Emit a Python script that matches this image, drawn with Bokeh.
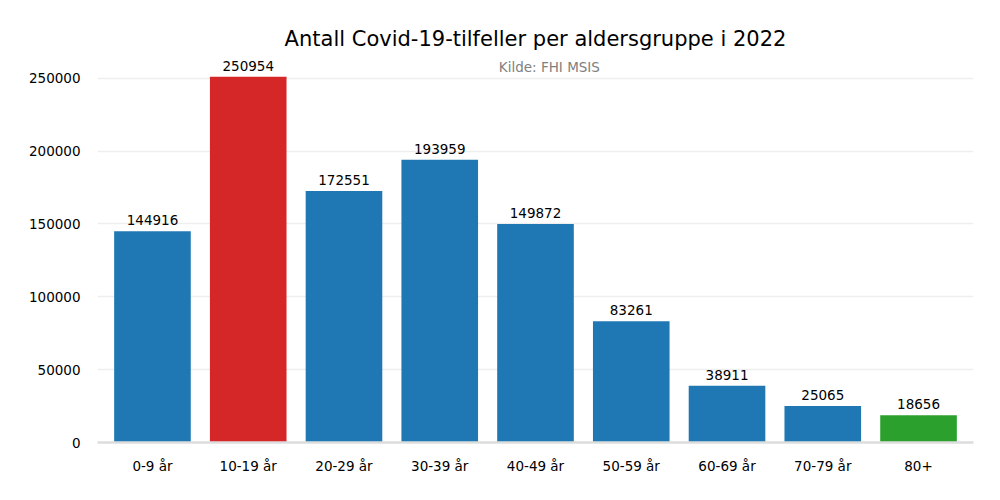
from bokeh.plotting import figure
from bokeh.models import ColumnDataSource, FactorRange, Label, NumeralTickFormatter, FixedTicker
from bokeh.embed import file_html
from bokeh.resources import INLINE

categories = ["0-9 år", "10-19 år", "20-29 år", "30-39 år", "40-49 år", "50-59 år", "60-69 år", "70-79 år", "80+"]
cases = [144916, 250954, 172551, 193959, 149872, 83261, 38911, 25065, 18656]
colors = ["#1f77b4", "#d62728", "#1f77b4", "#1f77b4", "#1f77b4", "#1f77b4", "#1f77b4", "#1f77b4", "#2ca02c"]
y_ticks = [0, 50000, 100000, 150000, 200000, 250000]

FONT = "DejaVu Sans"
FS = "13.5px"

source = ColumnDataSource(dict(cat=categories, val=cases, color=colors,
                               lbl=[str(v) for v in cases]))

p = figure(width=984, height=484, output_backend="svg", toolbar_location=None,
           x_range=FactorRange(factors=categories, range_padding=0.074, range_padding_units="absolute"),
           y_range=(0, max(cases) * 1.05),
           min_border_left=97, min_border_right=11, min_border_top=58, min_border_bottom=42)

p.vbar(x="cat", top="val", width=0.8, color="color", source=source, line_color=None)
p.text(x="cat", y="val", text="lbl", source=source, text_align="center", text_baseline="bottom",
       y_offset=-6, text_font_size=FS, text_font={"value": FONT}, text_color="black")

p.title.text = "Antall Covid-19-tilfeller per aldersgruppe i 2022"
p.title.align = "center"
p.title.text_font = FONT
p.title.text_font_size = "21px"
p.title.text_font_style = "normal"
p.title.text_color = "black"
p.title.standoff = 16

sub = Label(x=4.645, y=257555, text="Kilde: FHI MSIS", text_align="center", text_baseline="middle",
            text_font=FONT, text_font_size=FS, text_color="#808080")
p.add_layout(sub)

p.outline_line_color = None
p.xgrid.grid_line_color = None
p.ygrid.grid_line_color = "#eeeeee"
p.ygrid.grid_line_width = 1.5

p.yaxis.ticker = FixedTicker(ticks=y_ticks)
p.yaxis.formatter = NumeralTickFormatter(format="0")
p.yaxis.axis_line_color = None
p.yaxis.major_tick_line_color = None
p.yaxis.major_tick_out = 0
p.yaxis.minor_tick_line_color = None
p.yaxis.major_label_standoff = 17
p.yaxis.major_label_text_font = FONT
p.yaxis.major_label_text_font_size = FS
p.yaxis.major_label_text_color = "black"

p.xaxis.axis_line_color = "#dddddd"
p.xaxis.axis_line_width = 2.5
p.xaxis.major_tick_line_color = None
p.xaxis.major_tick_out = 0
p.xaxis.minor_tick_line_color = None
p.xaxis.major_label_standoff = 15
p.xaxis.major_label_text_font = FONT
p.xaxis.major_label_text_font_size = FS
p.xaxis.major_label_text_color = "black"

open("out.html", "w").write(file_html(p, INLINE))
